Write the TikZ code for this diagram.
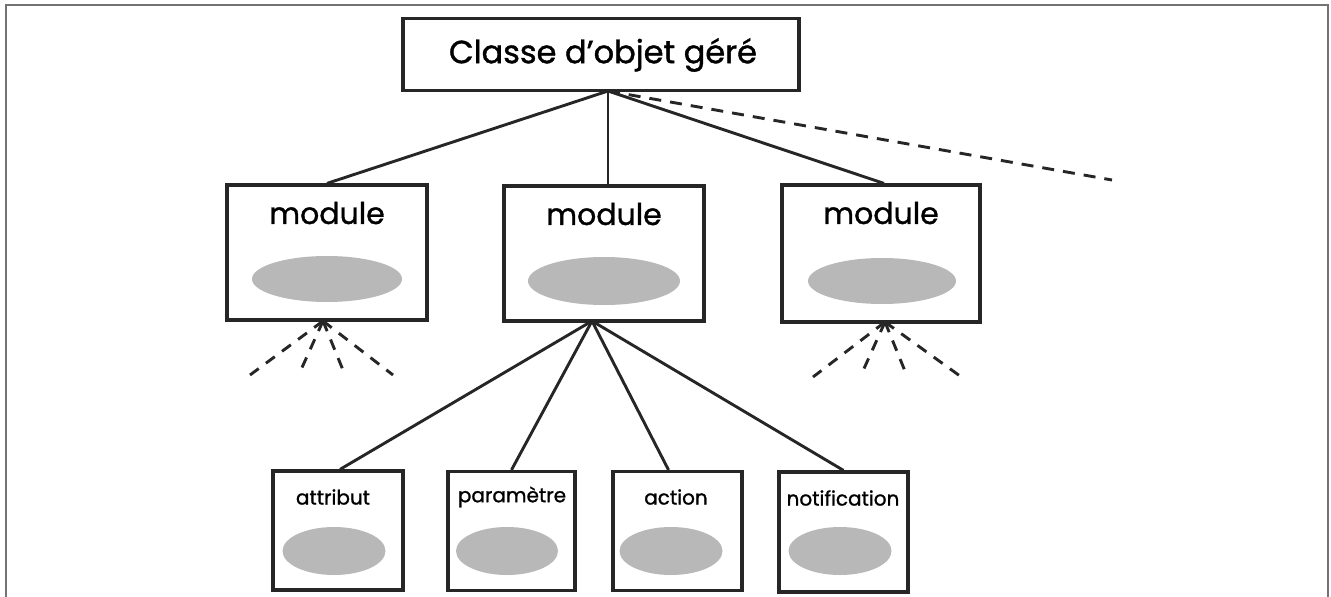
\documentclass[tikz,border=0pt]{standalone}
\usepackage{fontspec}
\setmainfont{Poppins}[FakeBold=1.2]
\usetikzlibrary{shapes.geometric,calc}
\begin{document}
\begin{tikzpicture}[x=1pt,y=-1pt,
  box/.style={draw=black!85, line width=3.2pt, fill=white, inner sep=0pt},
  blob/.style={ellipse, fill=black!28, draw=none, inner sep=0pt},
  conn/.style={line width=2.9pt, draw=black!85},
  dconn/.style={conn, dash pattern=on 12pt off 9pt},
  fconn/.style={conn, dash pattern=on 11pt off 9pt},
  frame/.style={draw=black!55, line width=1.8pt},
  bigtxt/.style={font=\fontsize{32}{34}\selectfont, inner sep=0pt},
  modtxt/.style={font=\fontsize{30}{32}\selectfont, inner sep=0pt},
  smalltxt/.style={font=\fontsize{20}{22}\selectfont, inner sep=0pt}]
\useasboundingbox (0,0) rectangle (1331,597);
\draw[frame] (6,597) -- (6,5) -- (1328,5) -- (1328,597);

% root
\node[box, minimum width=396pt, minimum height=72pt] (root) at (601,54.5) {};
\node[bigtxt] (roott) at (603,55) {Classe d’objet géré};
\coordinate (rp) at (608,91);

% modules
\node[box, minimum width=200pt, minimum height=135pt] (m1) at (327,252.5) {};
\node[modtxt] (m1t) at (327,213) {module};
\node[blob, minimum width=150pt, minimum height=46pt] (m1e) at (327,279) {};

\node[box, minimum width=200pt, minimum height=135pt] (m2) at (604,253.5) {};
\node[modtxt] (m2t) at (604,214) {module};
\node[blob, minimum width=152pt, minimum height=48pt] (m2e) at (604,281) {};

\node[box, minimum width=198pt, minimum height=137pt] (m3) at (881,253.5) {};
\node[modtxt] (m3t) at (881,213) {module};
\node[blob, minimum width=148pt, minimum height=46pt] (m3e) at (882,281) {};

% bottom boxes
\node[box, minimum width=130pt, minimum height=119pt] (b1) at (338,530.5) {};
\node[smalltxt] (b1t) at (333,497) {attribut};
\node[blob, minimum width=103pt, minimum height=48pt] (b1e) at (334,551) {};

\node[box, minimum width=127pt, minimum height=119pt] (b2) at (511.5,531) {};
\node[smalltxt] (b2t) at (512,497) {paramètre};
\node[blob, minimum width=102pt, minimum height=48pt] (b2e) at (507,551) {};

\node[box, minimum width=129pt, minimum height=119pt] (b3) at (677.5,531) {};
\node[smalltxt] (b3t) at (676,497) {action};
\node[blob, minimum width=103pt, minimum height=48pt] (b3e) at (671,551) {};

\node[box, minimum width=129pt, minimum height=120pt] (b4) at (843.5,532) {};
\node[smalltxt] (b4t) at (843,498) {notification};
\node[blob, minimum width=103pt, minimum height=48pt] (b4e) at (840,551) {};

% connectors from root
\draw[conn] (rp) -- (m1.north);
\draw[conn] (rp) -- (rp |- m2.north);
\draw[conn] (rp) -- ($(m3.north)+(3,0)$);
\coordinate (dend) at (1112,180);
\draw[dconn] (rp) -- (dend);

% connectors from middle module
\coordinate (m2b) at (592,321);
\draw[conn] (m2b) -- ($(b1.north)+(2,0)$);
\draw[conn] (m2b) -- (b2.north);
\draw[conn] (m2b) -- ($(b3.north)+(-9,0)$);
\draw[conn] (m2b) -- (b4.north);

% fans
\coordinate (f1) at (323,321);
\coordinate (f1a) at (250,375);
\coordinate (f1b) at (300,372);
\coordinate (f1c) at (345,375);
\coordinate (f1d) at (393,375);
\foreach \e in {f1a,f1b,f1c,f1d} \draw[fconn] (f1) -- (\e);

\coordinate (f3) at (885,322);
\coordinate (f3a) at (813,377);
\coordinate (f3b) at (862,373);
\coordinate (f3c) at (907,376);
\coordinate (f3d) at (960,376);
\foreach \e in {f3a,f3b,f3c,f3d} \draw[fconn] (f3) -- (\e);
\end{tikzpicture}
\end{document}
